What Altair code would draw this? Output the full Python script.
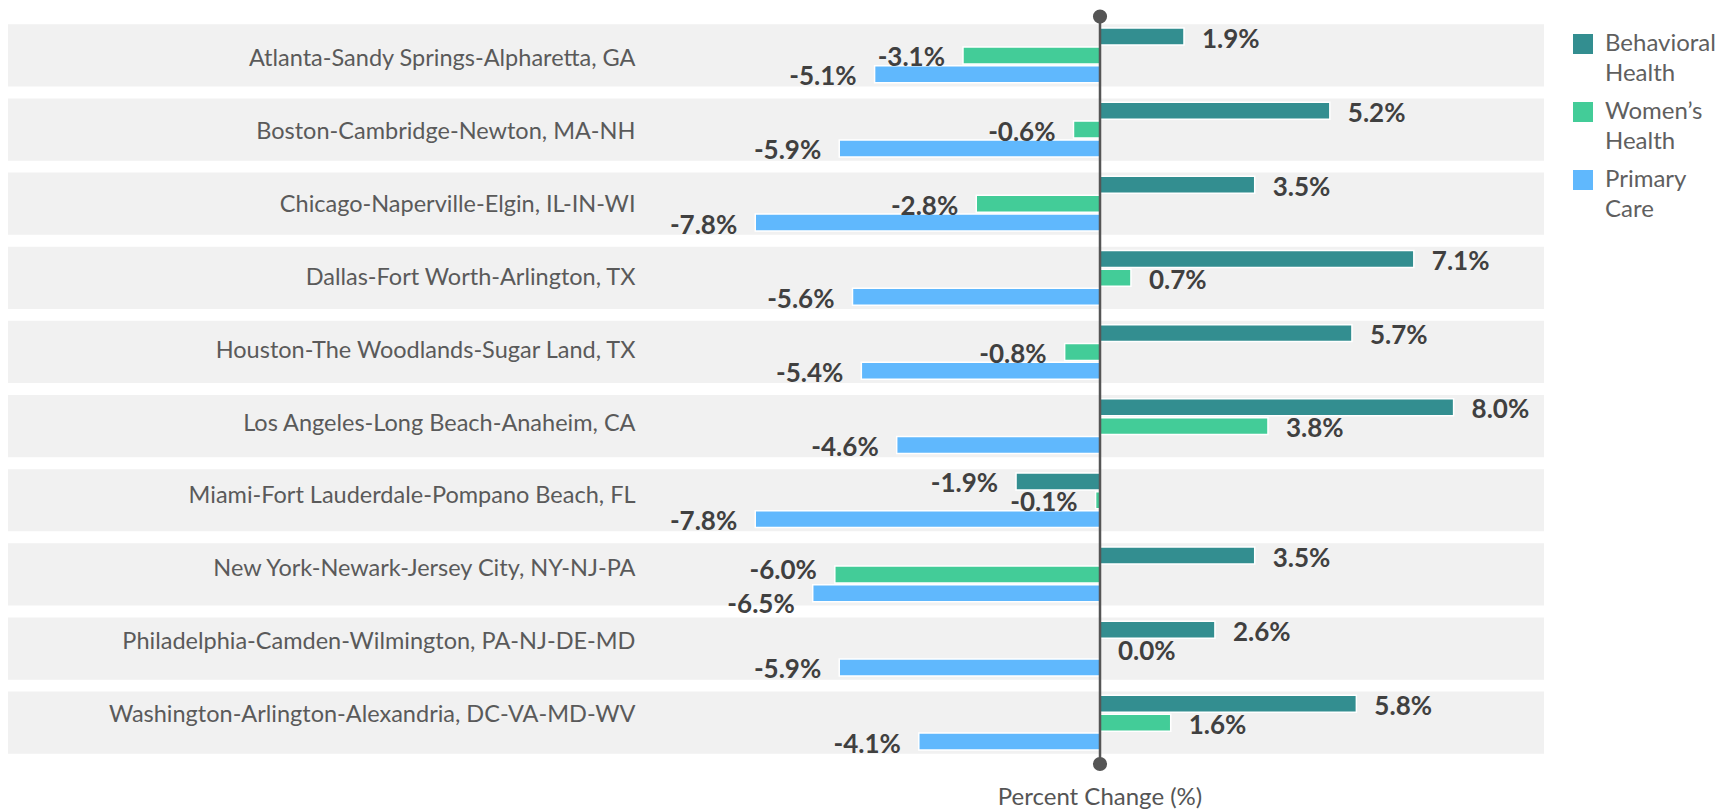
import altair as alt
import pandas as pd

cities = [
    "Atlanta-Sandy Springs-Alpharetta, GA",
    "Boston-Cambridge-Newton, MA-NH",
    "Chicago-Naperville-Elgin, IL-IN-WI",
    "Dallas-Fort Worth-Arlington, TX",
    "Houston-The Woodlands-Sugar Land, TX",
    "Los Angeles-Long Beach-Anaheim, CA",
    "Miami-Fort Lauderdale-Pompano Beach, FL",
    "New York-Newark-Jersey City, NY-NJ-PA",
    "Philadelphia-Camden-Wilmington, PA-NJ-DE-MD",
    "Washington-Arlington-Alexandria, DC-VA-MD-WV",
]
behavioral = [1.9, 5.2, 3.5, 7.1, 5.7, 8.0, -1.9, 3.5, 2.6, 5.8]
womens = [-3.1, -0.6, -2.8, 0.7, -0.8, 3.8, -0.1, -6.0, 0.0, 1.6]
primary = [-5.1, -5.9, -7.8, -5.6, -5.4, -4.6, -7.8, -6.5, -5.9, -4.1]
series_names = ["Behavioral Health", "Women\u2019s Health", "Primary Care"]
legend_line1 = ["Behavioral", "Women\u2019s", "Primary"]
legend_line2 = ["Health", "Health", "Care"]
colors = ["#338e90", "#43cc98", "#60b8fd"]

rows = []
for i, c in enumerate(cities):
    for s, vals in zip(series_names, [behavioral, womens, primary]):
        rows.append({"city": c, "series": s, "value": vals[i]})
df = pd.DataFrame(rows)
city_df = pd.DataFrame({"city": cities})
zero_df = pd.DataFrame({"v": [0]})
legend_df = pd.DataFrame({"series": series_names, "l1": legend_line1, "l2": legend_line2})

FONT = "Lato"
TXT = "#404040"
x_scale = alt.Scale(domain=[-24.706, 10.045], range=[0, 1536], nice=False, zero=False)
y_scale = alt.Scale(domain=cities, range=[16.3, 745.8], paddingInner=0.161, paddingOuter=0)
yo_scale = alt.Scale(domain=series_names, paddingInner=0.1, paddingOuter=0.2)
col_scale = alt.Scale(domain=series_names, range=colors)

Y = alt.Y("city:N", scale=y_scale, axis=None, sort=cities)
YO = alt.YOffset("series:N", scale=yo_scale, sort=series_names)
XV = alt.X("value:Q", scale=x_scale, axis=None)

bg = alt.Chart(city_df).mark_rect(color="#f1f1f1").encode(
    y=Y, x=alt.value(0), x2=alt.value(1536)
)

bars = alt.Chart(df).mark_bar(stroke="white", strokeWidth=1.5).encode(
    y=Y,
    yOffset=YO,
    x=XV,
    x2=alt.datum(0),
    color=alt.Color("series:N", scale=col_scale, legend=None),
)

# labels: hyphen minus like the reference; when the negative women's-health and
# primary-care labels of one city are close, push them apart
lab_base = alt.Chart(df).transform_calculate(
    label="replace(format(datum.value, '.1f'), '\u2212', '-') + '%'",
    wv="datum.series == 'Women\u2019s Health' ? datum.value : -999",
    pv="datum.series == 'Primary Care' ? datum.value : -999",
).transform_joinaggregate(
    wmax="max(wv)", pmax="max(pv)", groupby=["city"]
).transform_calculate(
    close="datum.wmax < 0 && datum.pmax < 0 && abs(datum.pmax - datum.wmax) < 1.2"
).transform_calculate(
    crowdp="datum.close && datum.series == 'Primary Care'",
    crowdw="datum.close && datum.series == 'Women\u2019s Health'",
)

def labels(flt, align, dx, dy):
    return lab_base.transform_filter(flt).mark_text(
        align=align, baseline="middle", dx=dx, dy=dy, font=FONT, fontSize=26,
        fontWeight="bold", color=TXT
    ).encode(y=Y, yOffset=YO, x=XV, text="label:N")

pos_labels = labels("datum.value >= 0", "left", 18, 3)
neg_labels = labels("datum.value < 0 && !datum.crowdp && !datum.crowdw", "right", -18, 3)
crowd_p = labels("datum.value < 0 && datum.crowdp", "right", -18, 12)
crowd_w = labels("datum.value < 0 && datum.crowdw", "right", -18, -3)

city_labels = alt.Chart(city_df).mark_text(
    align="right", baseline="middle", dy=-2, font=FONT, fontSize=23.5, color="#5a5a5a"
).encode(y=Y, x=alt.value(627.5), text="city:N")

XZ = alt.X("v:Q", scale=x_scale, axis=None)
rule = alt.Chart(zero_df).mark_rule(color="#555555", strokeWidth=2.5).encode(
    x=XZ, y=alt.value(8.6), y2=alt.value(756)
)
dot_top = alt.Chart(zero_df).mark_circle(size=200, color="#555555", opacity=1).encode(
    x=XZ, y=alt.value(8.6)
)
dot_bot = alt.Chart(zero_df).mark_circle(size=200, color="#555555", opacity=1).encode(
    x=XZ, y=alt.value(756)
)
axis_title = alt.Chart(zero_df).mark_text(
    text="Percent Change (%)", baseline="middle", align="center", font=FONT,
    fontSize=24, color="#555555"
).encode(x=XZ, y=alt.value(790))

LY = alt.Y("series:N", scale=alt.Scale(type="point", domain=series_names, range=[36, 172], padding=0), axis=None)
leg_sq = alt.Chart(legend_df).mark_square(size=400, opacity=1, filled=True).encode(
    y=LY, x=alt.value(1575), color=alt.Color("series:N", scale=col_scale, legend=None)
)
leg_t1 = alt.Chart(legend_df).mark_text(
    align="left", baseline="middle", font=FONT, fontSize=24, color="#5f5f5f"
).encode(y=LY, x=alt.value(1597), text="l1:N")
leg_t2 = alt.Chart(legend_df).mark_text(
    align="left", baseline="middle", dy=30, font=FONT, fontSize=24, color="#5f5f5f"
).encode(y=LY, x=alt.value(1597), text="l2:N")

chart = alt.layer(
    bg, bars, pos_labels, neg_labels, crowd_p, crowd_w, city_labels, rule, dot_top,
    dot_bot, axis_title, leg_sq, leg_t1, leg_t2
).resolve_scale(y="independent").properties(
    width=1717, height=801, padding=0, autosize=alt.AutoSizeParams(type="none"),
    background="white"
).configure_view(stroke=None)

chart.save("out.html", embed_options={"renderer": "svg", "actions": False})
